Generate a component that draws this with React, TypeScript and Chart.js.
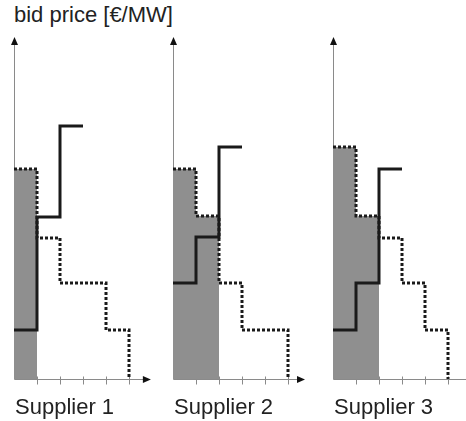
import React, { useEffect, useRef } from "react";
import { Chart, registerables } from "chart.js";

Chart.register(...registerables);

// Step levels per quantity block (bid price units)
const supplierNames = ["Supplier 1", "Supplier 2", "Supplier 3"];
const supply1 = [4.9, 16.2, 25.3];
const supply2 = [9.6, 14.2, 23.2];
const supply3 = [4.9, 9.6, 21.0];
const demand1 = [21.0, 14.1, 9.6, 9.6, 4.9];
const demand2 = [21.0, 16.3, 9.6, 4.9, 4.9];
const demand3 = [23.2, 16.3, 14.1, 9.6, 4.9];
const accepted1 = [21.0];
const accepted2 = [21.0, 16.3];
const accepted3 = [23.2, 16.3];
const xTicks = [1, 2, 3, 4, 5];
const yAxisLabel = "bid price [€/MW]";

const supplies = [supply1, supply2, supply3];
const demands = [demand1, demand2, demand3];
const accepteds = [accepted1, accepted2, accepted3];

const originsX = [14, 173, 333];
const arrowEnds = [5.95, 5.74, 6.4];

function stepPoints(levels: number[], closeY?: number) {
  const pts = levels.map((v, i) => ({ x: i, y: v }));
  pts.push({ x: levels.length, y: closeY === undefined ? levels[levels.length - 1] : closeY });
  return pts;
}

function Panel({ idx }: { idx: number }) {
  const ref = useRef<HTMLCanvasElement>(null);
  useEffect(() => {
    const arrowEnd = arrowEnds[idx];
    const axesPlugin = {
      id: "axesArrows",
      beforeDatasetsDraw(chart: any) {
        const { ctx, scales } = chart;
        const xs = scales.x;
        const ys = scales.y;
        const ox = Math.round(xs.getPixelForValue(0)) + 0.5;
        const oy = Math.round(ys.getPixelForValue(0)) + 0.5;
        const topY = ys.getPixelForValue(34);
        const endX = xs.getPixelForValue(arrowEnd);
        ctx.save();
        ctx.strokeStyle = "#8a8a8a";
        ctx.lineWidth = 1;
        ctx.beginPath();
        ctx.moveTo(ox, oy);
        ctx.lineTo(ox, topY + 5);
        ctx.moveTo(ox, oy);
        ctx.lineTo(endX - 6, oy);
        xTicks.forEach((t) => {
          const tx = Math.round(xs.getPixelForValue(t)) + 0.5;
          ctx.moveTo(tx, oy - 3);
          ctx.lineTo(tx, oy + 5);
        });
        ctx.stroke();
        ctx.restore();
      },
      afterDatasetsDraw(chart: any) {
        const { ctx, scales } = chart;
        const xs = scales.x;
        const ys = scales.y;
        const ox = Math.round(xs.getPixelForValue(0)) + 0.5;
        const oy = Math.round(ys.getPixelForValue(0)) + 0.5;
        const topY = ys.getPixelForValue(34);
        const endX = xs.getPixelForValue(arrowEnd);
        ctx.save();
        ctx.fillStyle = "#111";
        ctx.beginPath();
        ctx.moveTo(ox, topY - 2);
        ctx.lineTo(ox - 3.5, topY + 6);
        ctx.lineTo(ox + 3.5, topY + 6);
        ctx.closePath();
        ctx.fill();
        ctx.beginPath();
        ctx.moveTo(endX, oy);
        ctx.lineTo(endX - 8, oy - 3.5);
        ctx.lineTo(endX - 8, oy + 3.5);
        ctx.closePath();
        ctx.fill();
        ctx.restore();
      },
    };
    const chart = new Chart(ref.current as HTMLCanvasElement, {
      type: "line",
      data: {
        datasets: [
          {
            data: stepPoints(supplies[idx]),
            borderColor: "#1a1a1a",
            borderWidth: 3,
            stepped: "before",
            pointRadius: 0,
            fill: false,
            clip: false,
          } as any,
          {
            data: stepPoints(demands[idx], 0),
            borderColor: "#1a1a1a",
            borderWidth: 3,
            borderDash: [3, 2],
            stepped: "before",
            pointRadius: 0,
            fill: false,
            clip: false,
          } as any,
          {
            data: stepPoints(accepteds[idx]),
            borderWidth: 0,
            borderColor: "rgba(0,0,0,0)",
            backgroundColor: "#8f8f8f",
            stepped: "before",
            pointRadius: 0,
            fill: "origin",
            clip: false,
          } as any,
        ],
      },
      options: {
        animation: false,
        responsive: false,
        maintainAspectRatio: false,
        layout: { padding: { left: 10, right: 12, top: 9, bottom: 16 } },
        plugins: { legend: { display: false }, tooltip: { enabled: false }, title: { display: false } },
        scales: {
          x: { type: "linear", min: 0, max: 6, display: false },
          y: { type: "linear", min: 0, max: 34, display: false },
        },
      },
      plugins: [axesPlugin],
    });
    return () => chart.destroy();
  }, [idx]);
  return (
    <canvas
      ref={ref}
      width={160}
      height={365}
      style={{ position: "absolute", left: originsX[idx] - 10, top: 30, width: 160, height: 365 }}
    />
  );
}

export default function App() {
  const font = '"Liberation Sans", Arial, Helvetica, sans-serif';
  return (
    <div
      style={{
        position: "absolute",
        left: 0,
        top: 0,
        width: 466,
        height: 421,
        overflow: "hidden",
        background: "#fff",
      }}
    >
      <div
        style={{
          position: "absolute",
          left: 14,
          top: 4,
          fontFamily: font,
          fontSize: 22,
          lineHeight: "22px",
          color: "#222",
          whiteSpace: "nowrap",
        }}
      >
        {yAxisLabel}
      </div>
      {supplierNames.map((_, i) => (
        <Panel key={i} idx={i} />
      ))}
      {supplierNames.map((name, i) => (
        <div
          key={name}
          style={{
            position: "absolute",
            left: originsX[i] + 1,
            top: 396,
            fontFamily: font,
            fontSize: 22,
            lineHeight: "22px",
            color: "#222",
            whiteSpace: "nowrap",
          }}
        >
          {name}
        </div>
      ))}
    </div>
  );
}
